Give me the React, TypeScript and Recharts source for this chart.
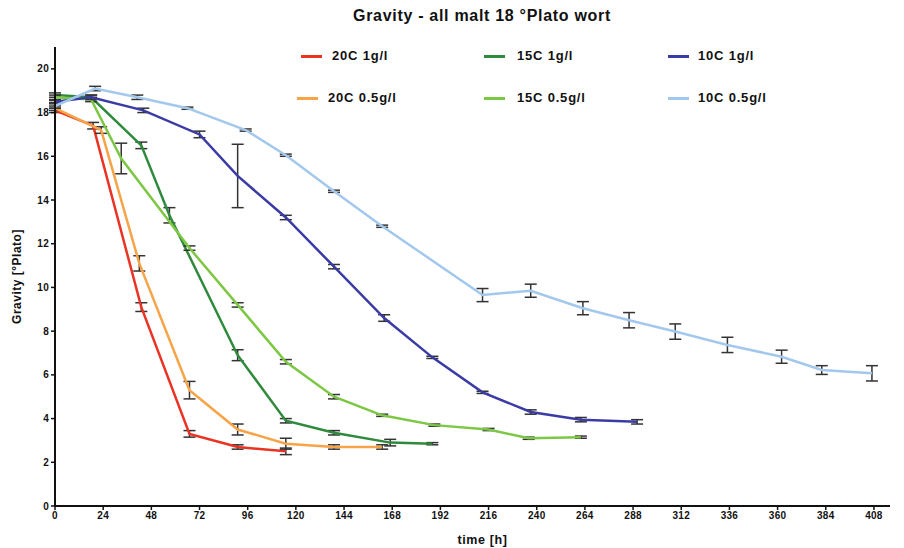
import React from 'react';
import { LineChart, Line, XAxis, YAxis, ErrorBar, Legend, Label } from 'recharts';

// ---- data (time in h, gravity in °Plato, error = half-range of error bar) ----
const red1_t = [0, 19, 43, 67, 91, 115];
const red1_g = [18.1, 17.4, 9.1, 3.3, 2.7, 2.5];
const red1_e = [0.1, 0.15, 0.2, 0.15, 0.1, 0.15];

const org05_t = [0, 23, 42, 67, 91, 115, 139, 163];
const org05_g = [18.2, 17.2, 11.1, 5.3, 3.5, 2.85, 2.7, 2.7];
const org05_e = [0.1, 0.15, 0.35, 0.4, 0.25, 0.25, 0.1, 0.1];

const grn1_t = [0, 18, 43, 57, 91, 115, 139, 167, 188];
const grn1_g = [18.8, 18.7, 16.5, 13.3, 6.9, 3.9, 3.35, 2.9, 2.85];
const grn1_e = [0.1, 0.1, 0.15, 0.35, 0.25, 0.1, 0.1, 0.15, 0.05];

const lgr05_t = [0, 18, 33, 67, 91, 115, 139, 163, 189, 216, 236, 262];
const lgr05_g = [18.7, 18.6, 15.9, 11.8, 9.2, 6.6, 5.0, 4.15, 3.7, 3.5, 3.1, 3.15];
const lgr05_e = [0.1, 0.1, 0.7, 0.1, 0.1, 0.1, 0.1, 0.05, 0.05, 0.05, 0.05, 0.05];

const blu1_t = [0, 18, 44, 72, 91, 115, 139, 164, 188, 213, 237, 262, 290];
const blu1_g = [18.5, 18.7, 18.1, 17.0, 15.1, 13.2, 10.95, 8.6, 6.8, 5.2, 4.3, 3.95, 3.85];
const blu1_e = [0.05, 0.1, 0.1, 0.15, 1.45, 0.1, 0.1, 0.15, 0.05, 0.05, 0.1, 0.1, 0.1];

const lbl05_t = [0, 20, 41, 66, 95, 115, 139, 163, 213, 237, 263, 286, 309, 335, 362, 382, 407];
const lbl05_g = [18.3, 19.1, 18.7, 18.2, 17.2, 16.05, 14.4, 12.8, 9.65, 9.85, 9.05, 8.5, 7.98, 7.37, 6.83, 6.22, 6.07];
const lbl05_e = [0.1, 0.1, 0.1, 0.05, 0.05, 0.05, 0.05, 0.05, 0.3, 0.3, 0.3, 0.35, 0.35, 0.35, 0.3, 0.2, 0.35];

const xTicks = [0, 24, 48, 72, 96, 120, 144, 168, 192, 216, 240, 264, 288, 312, 336, 360, 384, 408];
const yTicks = [0, 2, 4, 6, 8, 10, 12, 14, 16, 18, 20];

const seriesNames = ['20C 1g/l', '15C 1g/l', '10C 1g/l', '20C 0.5g/l', '15C 0.5g/l', '10C 0.5g/l'];
const title = 'Gravity - all malt 18 °Plato wort';

const build = (t: number[], g: number[], e: number[]) => t.map((x, i) => ({ t: x, g: g[i], e: e[i] }));

const FONT = '"Liberation Sans", Arial, sans-serif';

const series = [
  { name: seriesNames[0], color: '#ea3323', data: build(red1_t, red1_g, red1_e) },
  { name: seriesNames[3], color: '#f7a347', data: build(org05_t, org05_g, org05_e) },
  { name: seriesNames[1], color: '#2f8a3c', data: build(grn1_t, grn1_g, grn1_e) },
  { name: seriesNames[4], color: '#7cc743', data: build(lgr05_t, lgr05_g, lgr05_e) },
  { name: seriesNames[2], color: '#3b3ba6', data: build(blu1_t, blu1_g, blu1_e) },
  { name: seriesNames[5], color: '#a3c8ee', data: build(lbl05_t, lbl05_g, lbl05_e) },
];

const legendPos: Record<string, { x: number; y: number; tx: number }> = {
  '20C 1g/l': { x: 301, y: 56, tx: 332 },
  '15C 1g/l': { x: 484, y: 56, tx: 517 },
  '10C 1g/l': { x: 668, y: 56, tx: 698 },
  '20C 0.5g/l': { x: 297, y: 98, tx: 328 },
  '15C 0.5g/l': { x: 484, y: 98, tx: 517 },
  '10C 0.5g/l': { x: 668, y: 98, tx: 698 },
};

const LegendContent = () => (
  <div style={{ position: 'relative', width: 904, height: 0 }}>
    <div
      style={{
        position: 'absolute', left: 30, top: 7, width: 904, textAlign: 'center',
        fontFamily: FONT, fontWeight: 'bold', fontSize: 16, letterSpacing: 0.7, color: '#111',
      }}
    >
      {title}
    </div>
    {series.map((s) => {
      const p = legendPos[s.name];
      return (
        <React.Fragment key={s.name}>
          <div style={{ position: 'absolute', left: p.x, top: p.y - 1.5, width: 21, height: 3, background: s.color }} />
          <div
            style={{
              position: 'absolute', left: p.tx, top: p.y - 8, fontFamily: FONT, fontWeight: 'bold',
              fontSize: 13, letterSpacing: 0.8, color: '#111', whiteSpace: 'nowrap', lineHeight: '16px',
            }}
          >
            {s.name}
          </div>
        </React.Fragment>
      );
    })}
  </div>
);

export default function App() {
  return (
    <div style={{ position: 'absolute', left: 0, top: 0, width: 904, height: 548, background: '#fff' }}>
      <LineChart width={904} height={548} margin={{ top: 47, right: 14, bottom: 12, left: 15 }}>
        <XAxis
          type="number"
          dataKey="t"
          domain={[0, 416]}
          ticks={xTicks}
          interval={0}
          height={30}
          axisLine={{ stroke: '#111', strokeWidth: 2 }}
          tickLine={{ stroke: '#111', strokeWidth: 1.5 }}
          tickSize={4}
          tick={{ fill: '#111', fontSize: 10, fontWeight: 'bold', fontFamily: FONT, letterSpacing: 0.3 }}
        >
          <Label
            value="time [h]"
            position="insideBottom"
            offset={-8}
            dx={10}
            style={{ fill: '#111', fontSize: 12.5, fontWeight: 'bold', fontFamily: FONT, letterSpacing: 0.6 }}
          />
        </XAxis>
        <YAxis
          type="number"
          domain={[0, 21]}
          ticks={yTicks}
          interval={0}
          width={40}
          axisLine={{ stroke: '#111', strokeWidth: 2 }}
          tickLine={{ stroke: '#111', strokeWidth: 1.5 }}
          tickSize={4}
          tick={{ fill: '#111', fontSize: 10, fontWeight: 'bold', fontFamily: FONT, letterSpacing: 0.3 }}
        >
          <Label
            value="Gravity [°Plato]"
            angle={-90}
            position="insideLeft"
            offset={2}
            style={{ fill: '#111', fontSize: 12, fontWeight: 'bold', fontFamily: FONT, letterSpacing: 0.5, textAnchor: 'middle' }}
          />
        </YAxis>
        <Legend
          content={<LegendContent />}
          wrapperStyle={{ position: 'absolute', left: 0, top: 0, width: 904, height: 0 }}
        />
        {series.map((s) => (
          <Line
            key={s.name}
            name={s.name}
            data={s.data}
            dataKey="g"
            type="linear"
            stroke={s.color}
            strokeWidth={2.5}
            dot={false}
            activeDot={false}
            isAnimationActive={false}
          >
            <ErrorBar dataKey="e" width={6} stroke="#333" strokeWidth={1.5} direction="y" />
          </Line>
        ))}
      </LineChart>
    </div>
  );
}
